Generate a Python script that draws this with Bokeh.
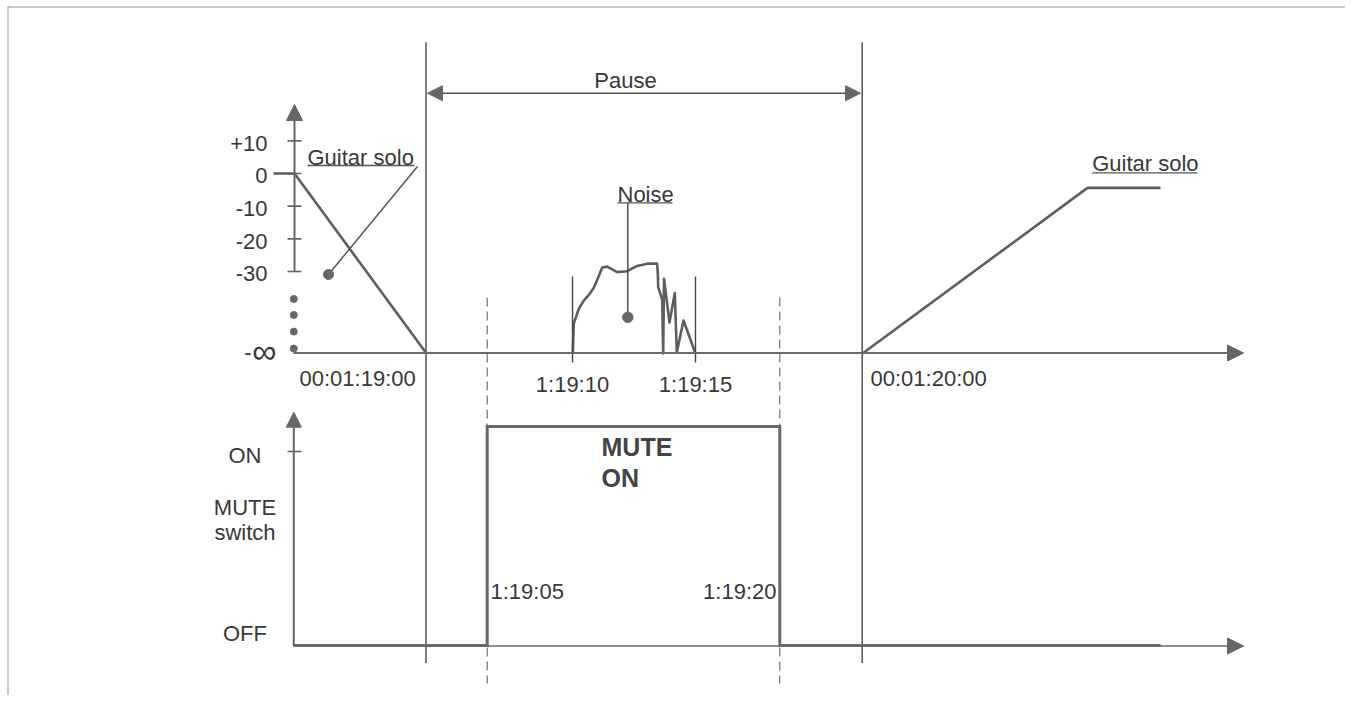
from bokeh.plotting import figure
from bokeh.models import Range1d, Arrow, NormalHead
from bokeh.core.properties import value
from bokeh.embed import file_html
from bokeh.resources import INLINE

# ---------------- data ----------------
NEG_INF_DB = -55.1  # display floor used for "-∞"
level_ticks_db = [10, 0, -10, -20, -30]
level_tick_labels = ["+10", "0", "-10", "-20", "-30"]
ellipsis_db = [-38.4, -43.3, -48.4, -53.6]

# guitar solo fading out before the pause (diagram x, dB)
fade_out_x = [273, 294, 426]
fade_out_db = [0, 0, NEG_INF_DB]

# guitar solo fading in after the pause
fade_in_x = [862, 1087, 1160]
fade_in_db = [NEG_INF_DB, -4.4, -4.4]

# noise burst inside the pause
noise_x = [572.3, 573.3, 578.3, 583.3, 589.0, 593.3, 597.0, 601.7, 606.7, 616.7,
           626.7, 636.7, 646.7, 656.5, 657.3, 657.7, 661.7, 662.7, 663.5, 669.0,
           674.3, 676.3, 683.0, 695.0]
noise_db = [NEG_INF_DB, -45.9, -41.4, -38.9, -36.9, -35.0, -32.4, -28.8, -28.5, -30.2,
            -29.9, -28.3, -27.6, -27.6, -30.3, -34.8, -38.6, NEG_INF_DB, -32.2, -45.6,
            -36.6, -54.8, -45.0, NEG_INF_DB]

# MUTE switch state (0 = OFF, 1 = ON)
mute_x = [293, 486.7, 486.7, 779.3, 779.3, 1160]
mute_state = [0, 0, 1, 1, 0, 0]

main_time_labels = ["00:01:19:00", "00:01:20:00"]
main_time_x = [299, 870]
noise_time_labels = ["1:19:10", "1:19:15"]
noise_time_x = [572, 695]
mute_time_labels = ["1:19:05", "1:19:20"]
mute_time_x = [486.7, 779.3]
pause_x = [425.5, 861.7]

# ---------------- styles ----------------
FONT = value("Liberation Sans")
FS = "22px"
TXT = "#383838"
LINE = "#555555"
CURVE = "#5e5e5e"
HEAD = "#666666"
DY = 1.5  # 'middle' baseline puts glyph centre slightly above y

W, H = 1345, 695
p = figure(width=W, height=H, x_range=Range1d(0, W), y_range=Range1d(H, 0),
           output_backend="svg", toolbar_location=None, min_border=0)
p.axis.visible = False
p.grid.visible = False
p.outline_line_color = None
p.background_fill_color = "white"
p.border_fill_color = "white"

p.extra_y_ranges = {"db": Range1d(start=-159.79, end=52.96),
                    "sw": Range1d(start=-0.2283, end=2.9452)}


def txt(xs, ys, labels, align="left", size=FS, style="normal", color=TXT, **kw):
    p.text(x=xs, y=[y + DY for y in ys], text=labels, text_font=FONT, text_font_size=size,
           text_font_style=style, text_align=align, text_baseline="middle", text_color=color, **kw)


# frame lines (top, left)
p.segment(x0=[7, 7.5], y0=[6.5, 6], x1=[1345, 7.5], y1=[6.5, 695], line_color="#9a9a9a", line_width=1)

# pause lines
p.segment(x0=pause_x, y0=[41.7, 41.7], x1=pause_x, y1=[662.5, 662.5], line_color="#444444", line_width=1.4)
# dashed MUTE edges
p.segment(x0=mute_time_x, y0=[297, 297], x1=mute_time_x, y1=[683, 683],
          line_color="#555555", line_width=1, line_dash="9 5")

# Pause arrow
p.add_layout(Arrow(start=NormalHead(size=15, fill_color=HEAD, line_color=HEAD),
                   end=NormalHead(size=15, fill_color=HEAD, line_color=HEAD),
                   x_start=427, y_start=92.7, x_end=860, y_end=92.7,
                   line_color=LINE, line_width=1.5))
txt([625], [78.5], ["Pause"], align="center")

# ---- level panel axes ----
p.add_layout(Arrow(end=NormalHead(size=16, fill_color=HEAD, line_color=HEAD),
                   x_start=294, y_start=271.5, x_end=294, y_end=104,
                   line_color="#666666", line_width=2))
p.add_layout(Arrow(end=NormalHead(size=16, fill_color=HEAD, line_color=HEAD),
                   x_start=293, y_start=352.5, x_end=1243, y_end=352.5,
                   line_color="#6a6a6a", line_width=2))
p.segment(x0=[287] * 5, x1=[301] * 5, y0=level_ticks_db, y1=level_ticks_db,
          y_range_name="db", line_color="#666666", line_width=1.6)
p.text(x=[267] * 5, y=[v - 0.75 for v in level_ticks_db], text=level_tick_labels, y_range_name="db",
       text_font=FONT, text_font_size=FS, text_align="right", text_baseline="middle",
       text_color=TXT)
p.scatter(x=[293.3] * 4, y=ellipsis_db, y_range_name="db", size=7, color="#666666")
# "-∞" label: short dash + large infinity sign
p.text(x=[251], y=[NEG_INF_DB + 0.25], text=["-"], y_range_name="db", text_font=FONT,
       text_font_size=FS, text_align="right", text_baseline="middle", text_color=TXT)
p.text(x=[276], y=[NEG_INF_DB + 0.9], text=["∞"], y_range_name="db", text_font=FONT,
       text_font_size="34px", text_align="right", text_baseline="middle", text_color=TXT)

# level curves
p.line(fade_out_x, fade_out_db, y_range_name="db", line_color=CURVE, line_width=2.6)
p.line(fade_in_x, fade_in_db, y_range_name="db", line_color=CURVE, line_width=2.6)
p.line(noise_x, noise_db, y_range_name="db", line_color=CURVE, line_width=2.6, line_join="round")

# noise time markers
p.segment(x0=noise_time_x, x1=noise_time_x, y0=[276, 276], y1=[362, 362], line_color="#444444", line_width=1.4)

# time labels
txt(main_time_x, [376, 376], main_time_labels)
txt(noise_time_x, [382, 382], noise_time_labels, align="center")

# Guitar solo annotations
txt([307, 1091.7], [155, 161.8], ["Guitar solo", "Guitar solo"])
p.segment(x0=[307, 1091.7], x1=[414, 1197], y0=[165, 172.3], y1=[165, 172.3], line_color="#555555", line_width=1.3)
p.segment(x0=[417], y0=[166], x1=[328], y1=[274], line_color=LINE, line_width=1.5)
p.scatter(x=[328], y=[274], size=10, color="#666666")

# Noise annotation
txt([617], [192.2], ["Noise"])
p.segment(x0=[617], x1=[672], y0=[202.3], y1=[202.3], line_color="#555555", line_width=1.3)
p.segment(x0=[627.3], x1=[627.3], y0=[202.3], y1=[316.7], line_color="#444444", line_width=1.4)
p.scatter(x=[627.3], y=[316.7], size=10.5, color="#666666")

# ---- MUTE switch panel ----
p.add_layout(Arrow(end=NormalHead(size=15, fill_color=HEAD, line_color=HEAD),
                   x_start=293.3, y_start=645.5, x_end=293.3, y_end=411.7,
                   line_color="#666666", line_width=2))
p.add_layout(Arrow(end=NormalHead(size=16, fill_color=HEAD, line_color=HEAD),
                   x_start=293, y_start=645.5, x_end=1243, y_end=645.5,
                   line_color="#6a6a6a", line_width=1.6))
p.segment(x0=[287], x1=[301], y0=[451], y1=[451], line_color="#666666", line_width=1.6)
p.line(mute_x, mute_state, y_range_name="sw", line_color="#686868", line_width=3, line_join="miter")

txt([244.5] * 4, [453, 505.8, 530, 631.8], ["ON", "MUTE", "switch", "OFF"], align="center")
txt([601, 601], [444.7, 476.3], ["MUTE", "ON"], size="25px", style="bold", color="#444444")
txt([490], [589.2], [mute_time_labels[0]])
txt([776], [589.2], [mute_time_labels[1]], align="right")

open("out.html", "w").write(file_html(p, INLINE))
